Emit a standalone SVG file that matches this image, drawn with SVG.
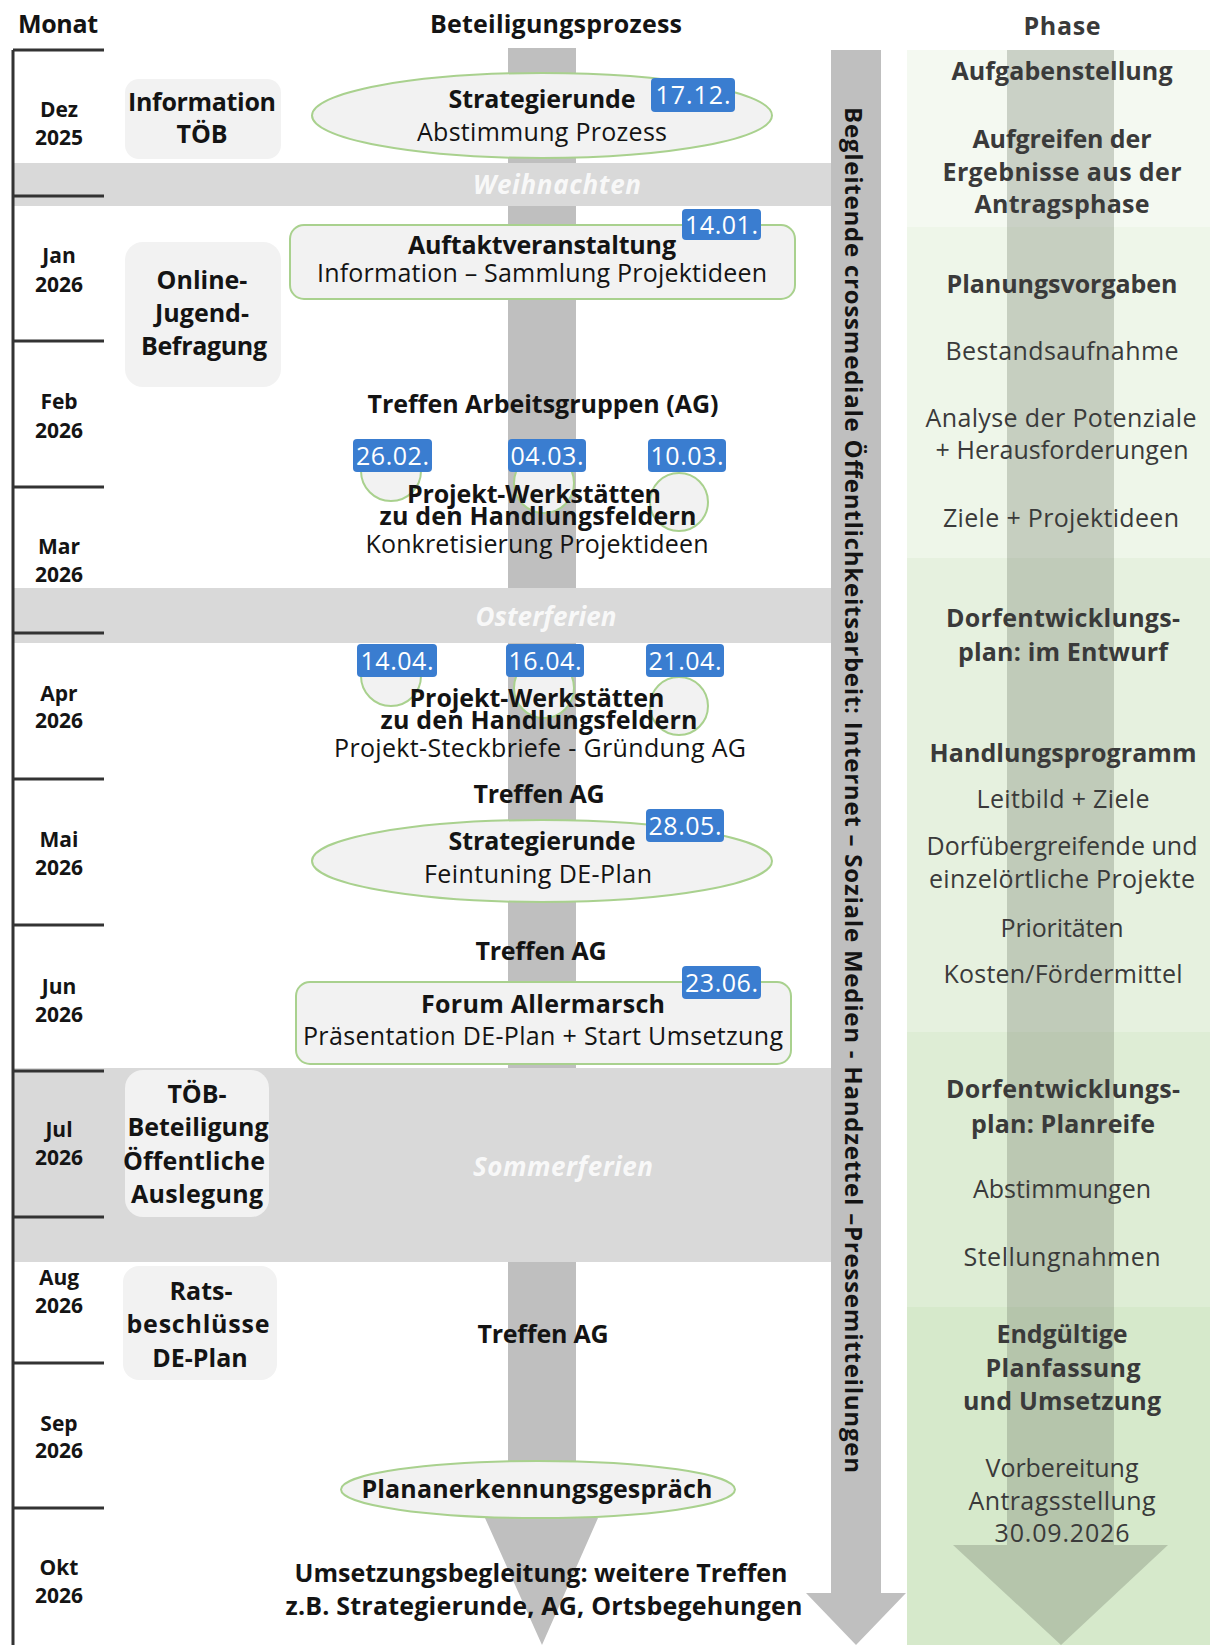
<svg xmlns="http://www.w3.org/2000/svg" width="1210" height="1645" viewBox="0 0 1210 1645">
<style>
text{font-family:'Open Sans','Liberation Sans',sans-serif;text-anchor:middle}
.b{font-weight:700;font-size:25px;fill:#141414}
.r{font-weight:400;font-size:25px;fill:#141414}
.m{font-weight:700;font-size:21px;fill:#141414}
.pb{font-weight:700;font-size:25px;fill:#3a3a3a}
.pr{font-weight:400;font-size:25px;fill:#3a3a3a}
.d{font-weight:400;font-size:25px;fill:#ffffff}
.h{font-weight:700;font-style:italic;font-size:26px;fill:#f8f8f8}
.v{font-weight:700;font-size:24px;fill:#141414;text-anchor:start}
.box{fill:#f2f2f2}
.gn{fill:#f2f2f2;stroke:#a9d18e;stroke-width:2}
.badge{fill:#3a7dd0}
.band{fill:#d9d9d9}
.ml{stroke:#333;stroke-width:3;fill:none}
</style>

<!-- phase background -->
<g id="phase-bg">
<rect x="907" y="50" width="303" height="177" fill="#f4f9f1"/>
<rect x="907" y="227" width="303" height="331" fill="#eef6e9"/>
<rect x="907" y="558" width="303" height="474" fill="#e6f1df"/>
<rect x="907" y="1032" width="303" height="275" fill="#deedd5"/>
<rect x="907" y="1307" width="303" height="338" fill="#d6e9cb"/>
</g>

<g id="connectors">
<!-- central process arrow -->
<path d="M508,48 H576 V1518 H598 L542,1645 L485,1518 H508 Z" fill="#bfbfbf"/>
<!-- phase arrow -->
<path d="M1007,50 H1114 V1545 H1168 L1061,1645 L953,1545 H1007 Z" fill="#6a7464" fill-opacity="0.3"/>
</g>

<!-- holiday bands -->
<g id="holidays">
<rect class="band" x="13" y="163" width="818" height="43"/>
<rect class="band" x="13" y="588" width="818" height="55"/>
<rect class="band" x="13" y="1068" width="818" height="194"/>
<text class="h" x="557" y="194" textLength="168" lengthAdjust="spacing">Weihnachten</text>
<text class="h" x="546" y="626" textLength="141" lengthAdjust="spacing">Osterferien</text>
<text class="h" x="563" y="1176" textLength="180" lengthAdjust="spacing">Sommerferien</text>
</g>

<!-- accompanying communication arrow -->
<g id="begleitend">
<path d="M831,50 H881 V1593 H906 L856,1645 L806,1593 H831 Z" fill="#bfbfbf"/>
<text class="v" transform="translate(845,107) rotate(90)" x="0" y="0" textLength="1366" lengthAdjust="spacing">Begleitende crossmediale Öffentlichkeitsarbeit: Internet – Soziale Medien - Handzettel –Pressemitteilungen</text>
</g>

<!-- headers -->
<g id="headers">
<text class="b" x="58" y="33" textLength="80" lengthAdjust="spacing">Monat</text>
<text class="b" x="556" y="33" textLength="252" lengthAdjust="spacing">Beteiligungsprozess</text>
<text class="pb" x="1062" y="35" textLength="77" lengthAdjust="spacing">Phase</text>
</g>

<!-- month axis -->
<g id="months">
<path class="ml" d="M13,50 V1645"/>
<path class="ml" d="M13,50 H104 M13,196 H104 M13,341 H104 M13,487 H104 M13,633 H104 M13,779 H104 M13,925 H104 M13,1071 H104 M13,1217 H104 M13,1363 H104 M13,1508 H104"/>
<text class="m" x="59" y="117">Dez</text><text class="m" x="59" y="145">2025</text>
<text class="m" x="59" y="263">Jan</text><text class="m" x="59" y="292">2026</text>
<text class="m" x="59" y="409">Feb</text><text class="m" x="59" y="438">2026</text>
<text class="m" x="59" y="554">Mar</text><text class="m" x="59" y="582">2026</text>
<text class="m" x="59" y="701">Apr</text><text class="m" x="59" y="728">2026</text>
<text class="m" x="59" y="847">Mai</text><text class="m" x="59" y="875">2026</text>
<text class="m" x="59" y="994">Jun</text><text class="m" x="59" y="1022">2026</text>
<text class="m" x="59" y="1137">Jul</text><text class="m" x="59" y="1165">2026</text>
<text class="m" x="59" y="1285">Aug</text><text class="m" x="59" y="1313">2026</text>
<text class="m" x="59" y="1431">Sep</text><text class="m" x="59" y="1458">2026</text>
<text class="m" x="59" y="1575">Okt</text><text class="m" x="59" y="1603">2026</text>
</g>

<!-- left side nodes -->
<g id="info-toeb">
<rect class="box" x="125" y="79" width="156" height="80" rx="14"/>
<text class="b" x="202" y="111" textLength="148" lengthAdjust="spacing">Information</text>
<text class="b" x="202" y="143">TÖB</text>
</g>
<g id="jugendbefragung">
<rect class="box" x="125" y="242" width="156" height="145" rx="18"/>
<text class="b" x="202" y="289">Online-</text>
<text class="b" x="202" y="322">Jugend-</text>
<text class="b" x="204" y="355" textLength="126" lengthAdjust="spacing">Befragung</text>
</g>
<g id="toeb-beteiligung">
<rect class="box" x="125" y="1070" width="144" height="147" rx="18"/>
<text class="b" x="197" y="1103">TÖB-</text>
<text class="b" x="198" y="1136" textLength="141" lengthAdjust="spacing">Beteiligung</text>
<text class="b" x="194" y="1170" textLength="142" lengthAdjust="spacing">Öffentliche</text>
<text class="b" x="197" y="1203" textLength="132" lengthAdjust="spacing">Auslegung</text>
</g>
<g id="ratsbeschluesse">
<rect class="box" x="123" y="1266" width="154" height="114" rx="16"/>
<text class="b" x="201" y="1300">Rats-</text>
<text class="b" x="198" y="1333" textLength="143" lengthAdjust="spacing">beschlüsse</text>
<text class="b" x="200" y="1367">DE-Plan</text>
</g>

<!-- process nodes -->
<g id="strategierunde-1">
<ellipse class="gn" cx="542" cy="115.5" rx="230" ry="42.5"/>
<text class="b" x="542" y="108" textLength="187" lengthAdjust="spacing">Strategierunde</text>
<text class="r" x="542" y="141" textLength="250" lengthAdjust="spacing">Abstimmung Prozess</text>
<rect class="badge" x="651" y="78" width="84" height="34" rx="4"/>
<text class="d" x="693" y="104" textLength="75" lengthAdjust="spacing">17.12.</text>
</g>

<g id="auftakt">
<rect class="gn" x="290" y="225" width="505" height="74" rx="14"/>
<text class="b" x="542" y="254" textLength="268" lengthAdjust="spacing">Auftaktveranstaltung</text>
<text class="r" x="542" y="282" textLength="450" lengthAdjust="spacing">Information – Sammlung Projektideen</text>
<rect class="badge" x="682" y="209" width="79" height="31" rx="4"/>
<text class="d" x="721.5" y="234" textLength="73" lengthAdjust="spacing">14.01.</text>
</g>

<g id="treffen-ag-1">
<text class="b" x="543" y="413" textLength="351" lengthAdjust="spacing">Treffen Arbeitsgruppen (AG)</text>
</g>

<g id="werkstaetten-1">
<circle class="gn" cx="391" cy="471" r="30"/>
<circle class="gn" cx="544" cy="483" r="30"/>
<circle class="gn" cx="679" cy="502" r="29"/>
<rect class="badge" x="353" y="439" width="79" height="33" rx="4"/>
<text class="d" x="392.5" y="465" textLength="73" lengthAdjust="spacing">26.02.</text>
<rect class="badge" x="508" y="439" width="78" height="33" rx="4"/>
<text class="d" x="547" y="465" textLength="73" lengthAdjust="spacing">04.03.</text>
<rect class="badge" x="648" y="439" width="78" height="33" rx="4"/>
<text class="d" x="687" y="465" textLength="73" lengthAdjust="spacing">10.03.</text>
<text class="b" x="534" y="503" textLength="254" lengthAdjust="spacing">Projekt-Werkstätten</text>
<text class="b" x="538" y="525" textLength="317" lengthAdjust="spacing">zu den Handlungsfeldern</text>
<text class="r" x="537" y="553" textLength="343" lengthAdjust="spacing">Konkretisierung Projektideen</text>
</g>

<g id="werkstaetten-2">
<circle class="gn" cx="391" cy="676" r="30"/>
<circle class="gn" cx="544" cy="688" r="30"/>
<circle class="gn" cx="679" cy="706" r="29"/>
<rect class="badge" x="357" y="644" width="80" height="33" rx="4"/>
<text class="d" x="397" y="670" textLength="73" lengthAdjust="spacing">14.04.</text>
<rect class="badge" x="506" y="644" width="78" height="33" rx="4"/>
<text class="d" x="545" y="670" textLength="73" lengthAdjust="spacing">16.04.</text>
<rect class="badge" x="646" y="644" width="78" height="33" rx="4"/>
<text class="d" x="685" y="670" textLength="73" lengthAdjust="spacing">21.04.</text>
<text class="b" x="537" y="707" textLength="255" lengthAdjust="spacing">Projekt-Werkstätten</text>
<text class="b" x="539" y="729" textLength="317" lengthAdjust="spacing">zu den Handlungsfeldern</text>
<text class="r" x="540" y="757" textLength="412" lengthAdjust="spacing">Projekt-Steckbriefe - Gründung AG</text>
</g>

<g id="treffen-ag-2">
<text class="b" x="539" y="803" textLength="131" lengthAdjust="spacing">Treffen AG</text>
</g>

<g id="strategierunde-2">
<ellipse class="gn" cx="542" cy="861" rx="230" ry="41"/>
<text class="b" x="542" y="850" textLength="187" lengthAdjust="spacing">Strategierunde</text>
<text class="r" x="538" y="883" textLength="228" lengthAdjust="spacing">Feintuning DE-Plan</text>
<rect class="badge" x="646" y="809" width="78" height="33" rx="4"/>
<text class="d" x="685" y="835" textLength="73" lengthAdjust="spacing">28.05.</text>
</g>

<g id="treffen-ag-3">
<text class="b" x="541" y="960" textLength="131" lengthAdjust="spacing">Treffen AG</text>
</g>

<g id="forum">
<rect class="gn" x="296" y="982" width="495" height="82" rx="14"/>
<text class="b" x="543" y="1013" textLength="244" lengthAdjust="spacing">Forum Allermarsch</text>
<text class="r" x="543" y="1045" textLength="480" lengthAdjust="spacing">Präsentation DE-Plan + Start Umsetzung</text>
<rect class="badge" x="682" y="966" width="79" height="33" rx="4"/>
<text class="d" x="721.5" y="992" textLength="73" lengthAdjust="spacing">23.06.</text>
</g>

<g id="treffen-ag-4">
<text class="b" x="543" y="1343" textLength="131" lengthAdjust="spacing">Treffen AG</text>
</g>

<g id="plananerkennung">
<ellipse class="gn" cx="538" cy="1489.5" rx="197" ry="28.5"/>
<text class="b" x="537" y="1498" textLength="351" lengthAdjust="spacing">Plananerkennungsgespräch</text>
</g>

<g id="umsetzungsbegleitung">
<text class="b" x="541" y="1582" textLength="493" lengthAdjust="spacing">Umsetzungsbegleitung: weitere Treffen</text>
<text class="b" x="544" y="1615" textLength="517" lengthAdjust="spacing">z.B. Strategierunde, AG, Ortsbegehungen</text>
</g>

<!-- phase column texts -->
<g id="phase-aufgabenstellung">
<text class="pb" x="1062" y="80" textLength="221" lengthAdjust="spacing">Aufgabenstellung</text>
<text class="pb" x="1062" y="148" textLength="179" lengthAdjust="spacing">Aufgreifen der</text>
<text class="pb" x="1062" y="181" textLength="239" lengthAdjust="spacing">Ergebnisse aus der</text>
<text class="pb" x="1062" y="213" textLength="175" lengthAdjust="spacing">Antragsphase</text>
</g>
<g id="phase-planungsvorgaben">
<text class="pb" x="1062" y="293" textLength="231" lengthAdjust="spacing">Planungsvorgaben</text>
<text class="pr" x="1062" y="360" textLength="233" lengthAdjust="spacing">Bestandsaufnahme</text>
<text class="pr" x="1061" y="427" textLength="271" lengthAdjust="spacing">Analyse der Potenziale</text>
<text class="pr" x="1062" y="459" textLength="253" lengthAdjust="spacing">+ Herausforderungen</text>
<text class="pr" x="1061" y="527" textLength="236" lengthAdjust="spacing">Ziele + Projektideen</text>
</g>
<g id="phase-entwurf">
<text class="pb" x="1063" y="627" textLength="234" lengthAdjust="spacing">Dorfentwicklungs-</text>
<text class="pb" x="1063" y="661" textLength="210" lengthAdjust="spacing">plan: im Entwurf</text>
<text class="pb" x="1063" y="762" textLength="267" lengthAdjust="spacing">Handlungsprogramm</text>
<text class="pr" x="1063" y="808" textLength="173" lengthAdjust="spacing">Leitbild + Ziele</text>
<text class="pr" x="1062" y="855" textLength="271" lengthAdjust="spacing">Dorfübergreifende und</text>
<text class="pr" x="1062" y="888" textLength="266" lengthAdjust="spacing">einzelörtliche Projekte</text>
<text class="pr" x="1062" y="937" textLength="123" lengthAdjust="spacing">Prioritäten</text>
<text class="pr" x="1063" y="983" textLength="239" lengthAdjust="spacing">Kosten/Fördermittel</text>
</g>
<g id="phase-planreife">
<text class="pb" x="1063" y="1098" textLength="234" lengthAdjust="spacing">Dorfentwicklungs-</text>
<text class="pb" x="1063" y="1133" textLength="184" lengthAdjust="spacing">plan: Planreife</text>
<text class="pr" x="1062" y="1198" textLength="178" lengthAdjust="spacing">Abstimmungen</text>
<text class="pr" x="1062" y="1266" textLength="197" lengthAdjust="spacing">Stellungnahmen</text>
</g>
<g id="phase-endgueltig">
<text class="pb" x="1062" y="1343" textLength="131" lengthAdjust="spacing">Endgültige</text>
<text class="pb" x="1063" y="1377" textLength="155" lengthAdjust="spacing">Planfassung</text>
<text class="pb" x="1062" y="1410" textLength="198" lengthAdjust="spacing">und Umsetzung</text>
<text class="pr" x="1062" y="1477" textLength="153" lengthAdjust="spacing">Vorbereitung</text>
<text class="pr" x="1062" y="1510" textLength="187" lengthAdjust="spacing">Antragsstellung</text>
<text class="pr" x="1062" y="1542" textLength="135" lengthAdjust="spacing">30.09.2026</text>
</g>
</svg>
